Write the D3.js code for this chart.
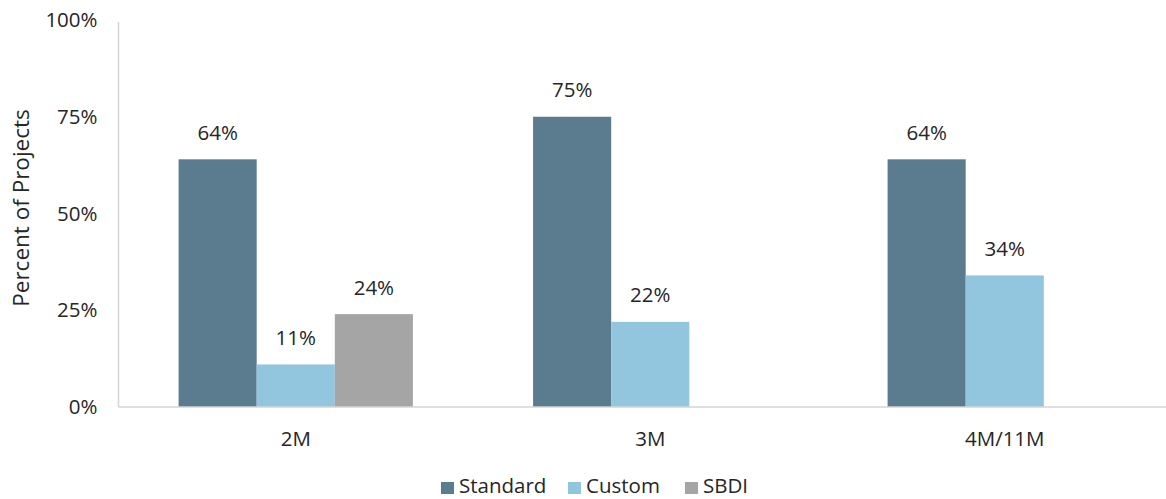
<!DOCTYPE html>
<html>
<head>
<meta charset="utf-8">
<script src="https://cdn.jsdelivr.net/npm/d3@7"></script>
<style>
  html, body { margin: 0; padding: 0; background: #fff; }
  svg { display: block; font-family: "Open Sans", "Noto Sans", sans-serif; }
</style>
</head>
<body>
<svg id="chart" width="1166" height="499"></svg>
<script>
// Share of projects by module type and design approach
const categories = ["2M", "3M", "4M/11M"];
const seriesNames = ["Standard", "Custom", "SBDI"];
const standardValues = [0.64, 0.75, 0.64];
const customValues = [0.11, 0.22, 0.34];
const sbdiValues = [0.24, null, null];
const yTicks = [0, 0.25, 0.5, 0.75, 1];
const colors = ["#5b7b8e", "#92c5de", "#a5a5a5"];

const seriesValues = [standardValues, customValues, sbdiValues];
const fontSize = 20.5;
const textColor = "#262626";

const svg = d3.select("#chart");
const margin = { left: 118.5, top: 20, bottom: 407 };
const plotRight = 1182;

const x = d3.scaleBand().domain(categories).range([margin.left, plotRight]).paddingInner(0.339).paddingOuter(0.1695);
const xs = d3.scaleBand().domain(seriesNames).range([0, x.bandwidth()]);
const y = d3.scaleLinear().domain([0, 1]).range([margin.bottom, margin.top]);

// Vertical axis line
svg.append("line")
  .attr("x1", margin.left).attr("x2", margin.left)
  .attr("y1", 22).attr("y2", margin.bottom)
  .attr("stroke", "#d4d4d4").attr("stroke-width", 1.5);

// Y tick labels
const yAxis = d3.axisLeft(y).tickValues(yTicks).tickFormat(d3.format(".0%")).tickSize(0).tickPadding(21);
const yg = svg.append("g").attr("transform", `translate(${margin.left},0)`).call(yAxis);
yg.select(".domain").remove();
yg.selectAll("text").attr("font-size", fontSize).attr("fill", textColor).attr("font-family", "Open Sans, sans-serif");

// Bars and value labels
seriesValues.forEach((vals, si) => {
  const data = categories.map((c, i) => ({ c, v: vals[i] })).filter(d => d.v != null);
  svg.append("g").selectAll("rect").data(data).join("rect")
    .attr("x", d => x(d.c) + xs(seriesNames[si]))
    .attr("width", xs.bandwidth())
    .attr("y", d => y(d.v))
    .attr("height", d => y(0) - y(d.v))
    .attr("fill", colors[si]);
  svg.append("g").selectAll("text").data(data).join("text")
    .attr("x", d => x(d.c) + xs(seriesNames[si]) + xs.bandwidth() / 2)
    .attr("y", d => y(d.v) - 19.5)
    .attr("text-anchor", "middle")
    .attr("font-size", fontSize)
    .attr("fill", textColor)
    .text(d => d3.format(".0%")(d.v));
});

// Baseline
svg.append("line")
  .attr("x1", margin.left).attr("x2", 1166)
  .attr("y1", margin.bottom).attr("y2", margin.bottom)
  .attr("stroke", "#d4d4d4").attr("stroke-width", 1.5);

// X category labels
const xAxis = d3.axisBottom(x).tickSize(0).tickPadding(24);
const xg = svg.append("g").attr("transform", `translate(0,${margin.bottom})`).call(xAxis);
xg.select(".domain").remove();
xg.selectAll("text").attr("font-size", fontSize).attr("fill", textColor).attr("font-family", "Open Sans, sans-serif");

// Y axis title
svg.append("text")
  .attr("transform", `translate(29,208) rotate(-90)`)
  .attr("text-anchor", "middle")
  .attr("font-size", 22.5)
  .attr("fill", textColor)
  .text("Percent of Projects");

// Legend
const legendX = [441, 568, 685];
const legend = svg.append("g");
seriesNames.forEach((name, i) => {
  legend.append("rect")
    .attr("x", legendX[i]).attr("y", 482)
    .attr("width", 13).attr("height", 12)
    .attr("fill", colors[i]);
  legend.append("text")
    .attr("x", legendX[i] + 18).attr("y", 493)
    .attr("font-size", fontSize).attr("fill", textColor)
    .text(name);
});
</script>
</body>
</html>
